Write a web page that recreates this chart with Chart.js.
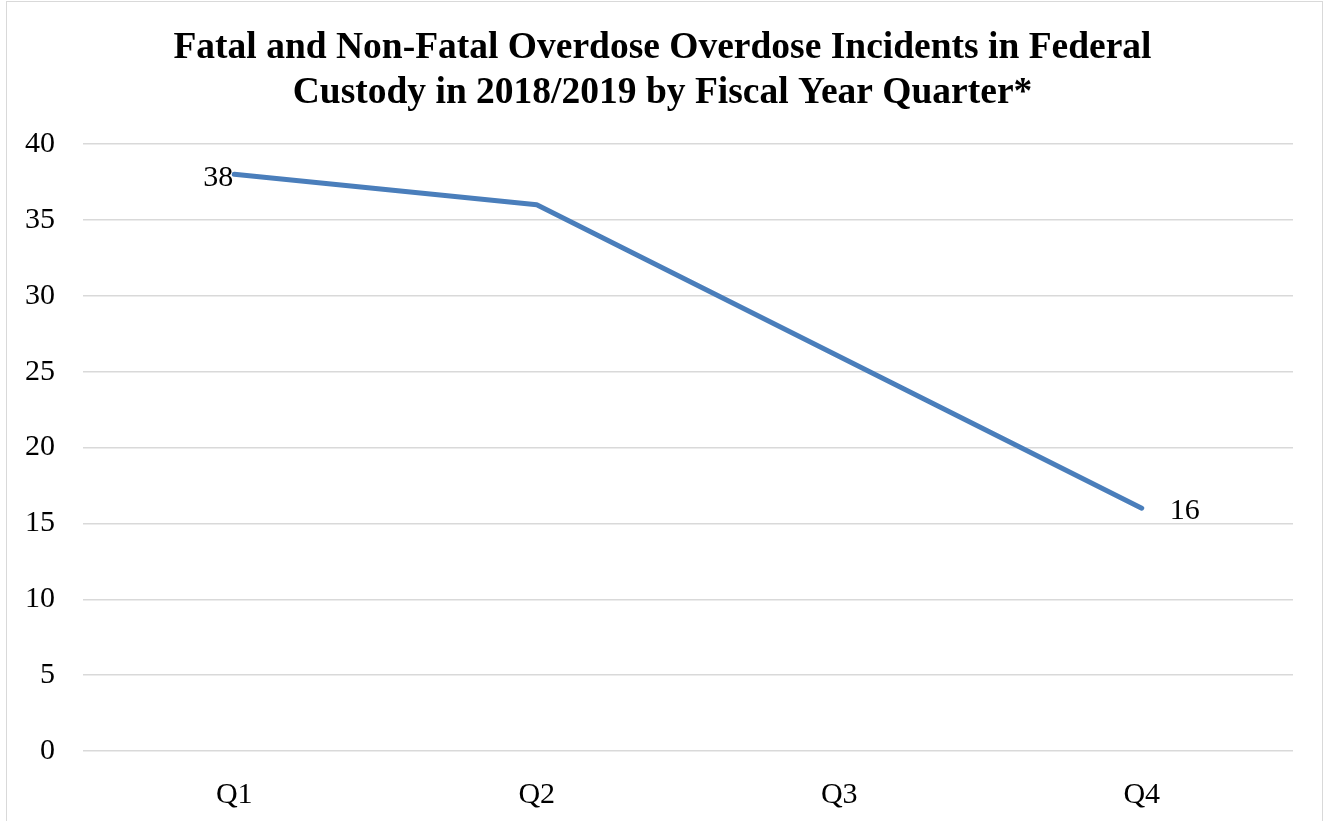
<!DOCTYPE html>
<html>
<head>
<meta charset="utf-8">
<script src="https://cdn.jsdelivr.net/npm/chart.js@4/dist/chart.umd.min.js"></script>
<style>
  html, body { margin: 0; padding: 0; background: #ffffff; overflow: hidden; }
  #wrap { position: relative; width: 1325px; height: 821px; }
  #frame { position: absolute; left: 6px; top: 1px; width: 1317px; height: 900px;
           border: 1.5px solid #d9d9d9; box-sizing: border-box; }
  #c { position: absolute; left: 0; top: 0; }
</style>
</head>
<body>
<div id="wrap">
  <div id="frame"></div>
  <canvas id="c" width="1325" height="821"></canvas>
</div>
<script>
// Chart text and values
const titleLines = [
  'Fatal and Non-Fatal Overdose Overdose Incidents in Federal',
  'Custody in 2018/2019 by Fiscal Year Quarter*'
];
const quarters = ['Q1', 'Q2', 'Q3', 'Q4'];
const incidents = [38, 36, 26, 16];
// which points carry a value label, and on which side of the point
const labelSides = ['left', null, null, 'right'];
const yMin = 0;
const yMax = 40;
const yStep = 5;

const serif = "'Liberation Serif', 'Times New Roman', serif";
const lineColor = '#4a7ebb';
const gridColor = '#d9d9d9';

// Writes the value next to selected points
const valueLabels = {
  id: 'valueLabels',
  afterDatasetsDraw(chart) {
    const meta = chart.getDatasetMeta(0);
    const ctx = chart.ctx;
    ctx.save();
    ctx.font = '30px ' + serif;
    ctx.fillStyle = '#000000';
    ctx.textBaseline = 'middle';
    meta.data.forEach((pt, i) => {
      const side = labelSides[i];
      if (!side) return;
      const text = String(incidents[i]);
      if (side === 'left') {
        ctx.textAlign = 'right';
        ctx.fillText(text, pt.x - 1, pt.y + 4);
      } else {
        ctx.textAlign = 'left';
        ctx.fillText(text, pt.x + 28, pt.y + 3);
      }
    });
    ctx.restore();
  }
};

new Chart(document.getElementById('c'), {
  type: 'line',
  data: {
    labels: quarters,
    datasets: [{
      data: incidents,
      borderColor: lineColor,
      borderWidth: 5,
      borderCapStyle: 'round',
      borderJoinStyle: 'round',
      pointRadius: 0,
      pointHoverRadius: 0,
      tension: 0,
      fill: false
    }]
  },
  options: {
    responsive: false,
    animation: false,
    events: [],
    layout: { padding: 0 },
    plugins: {
      legend: { display: false },
      tooltip: { enabled: false },
      title: {
        display: true,
        text: titleLines,
        color: '#000000',
        font: { family: serif, size: 37.5, weight: 'bold', lineHeight: 1.2 },
        padding: { top: 26, bottom: 28 }
      }
    },
    scales: {
      x: {
        offset: true,
        grid: { display: false, drawTicks: false },
        border: { display: false },
        ticks: { color: '#000000', font: { family: serif, size: 30 }, padding: 26 },
        afterFit(scale) { scale.height = 70; }
      },
      y: {
        min: yMin,
        max: yMax,
        grid: { color: gridColor, lineWidth: 1.5, drawTicks: false },
        border: { display: false },
        ticks: {
          stepSize: yStep,
          color: '#000000',
          font: { family: serif, size: 30 },
          padding: 28
        },
        afterFit(scale) { scale.width = 83; }
      },
      // empty strip on the right side of the plot
      yRight: {
        position: 'right',
        grid: { display: false, drawTicks: false },
        border: { display: false },
        ticks: { display: false },
        afterFit(scale) { scale.width = 32; }
      }
    }
  },
  plugins: [valueLabels]
});
</script>
</body>
</html>
